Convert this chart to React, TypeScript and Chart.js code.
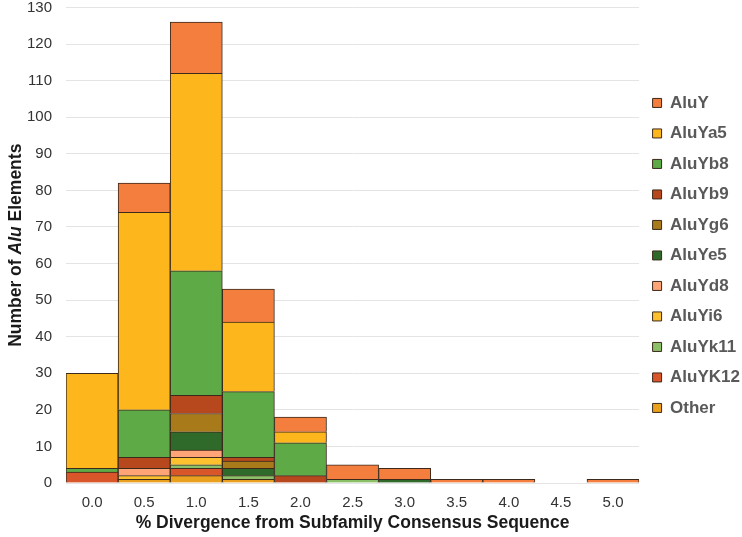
import React, { useEffect, useRef } from "react";
import { Chart, registerables } from "chart.js";

Chart.register(...registerables);

const categories = ["0.0", "0.5", "1.0", "1.5", "2.0", "2.5", "3.0", "3.5", "4.0", "4.5", "5.0"];

// stacking order: bottom -> top
const other = [0, 1, 2, 1, 0, 0, 0, 0, 0, 0, 0];
const aluYK12 = [3, 0, 2, 0, 0, 0, 0, 0, 0, 0, 0];
const aluYk11 = [0, 0, 1, 1, 0, 1, 0, 0, 0, 0, 0];
const aluYi6 = [0, 1, 2, 0, 0, 0, 0, 0, 0, 0, 0];
const aluYd8 = [0, 2, 2, 0, 0, 0, 0, 0, 0, 0, 0];
const aluYe5 = [0, 0, 5, 2, 0, 0, 1, 0, 0, 0, 0];
const aluYg6 = [0, 0, 5, 2, 0, 0, 0, 0, 0, 0, 0];
const aluYb9 = [0, 3, 5, 1, 2, 0, 0, 0, 0, 0, 0];
const aluYb8 = [1, 13, 34, 18, 9, 0, 0, 0, 0, 0, 0];
const aluYa5 = [26, 54, 54, 19, 3, 0, 0, 0, 0, 0, 0];
const aluY = [0, 8, 14, 9, 4, 4, 3, 1, 1, 0, 1];

const yTicksMax = 130;
const yTicksStep = 10;

const series = [
  { label: "Other", data: other, color: "#E9A01E" },
  { label: "AluYK12", data: aluYK12, color: "#D9562A" },
  { label: "AluYk11", data: aluYk11, color: "#8CC068" },
  { label: "AluYi6", data: aluYi6, color: "#FDC130" },
  { label: "AluYd8", data: aluYd8, color: "#FFA477" },
  { label: "AluYe5", data: aluYe5, color: "#2F6A2A" },
  { label: "AluYg6", data: aluYg6, color: "#A87A1A" },
  { label: "AluYb9", data: aluYb9, color: "#B7471C" },
  { label: "AluYb8", data: aluYb8, color: "#5EAA46" },
  { label: "AluYa5", data: aluYa5, color: "#FDB71C" },
  { label: "AluY", data: aluY, color: "#F47E3E" },
];

const FONT = "'Liberation Sans', Arial, Helvetica, sans-serif";

const yTitlePlugin = {
  id: "yTitle",
  afterDraw(chart: any) {
    const { ctx, chartArea } = chart;
    const parts = [
      { t: "Number of ", f: `bold 17.5px ${FONT}` },
      { t: "Alu", f: `italic bold 17.5px ${FONT}` },
      { t: " Elements", f: `bold 17.5px ${FONT}` },
    ];
    ctx.save();
    let total = 0;
    const widths = parts.map((p) => {
      ctx.font = p.f;
      const w = ctx.measureText(p.t).width;
      total += w;
      return w;
    });
    ctx.translate(16, (chartArea.top + chartArea.bottom) / 2);
    ctx.rotate(-Math.PI / 2);
    ctx.fillStyle = "#1a1a1a";
    ctx.textBaseline = "middle";
    ctx.textAlign = "left";
    let x = -total / 2;
    parts.forEach((p, i) => {
      ctx.font = p.f;
      ctx.fillText(p.t, x, 0);
      x += widths[i];
    });
    ctx.restore();
  },
};

export default function App() {
  const ref = useRef<HTMLCanvasElement | null>(null);

  useEffect(() => {
    if (!ref.current) return;
    const chart = new Chart(ref.current, {
      type: "bar",
      data: {
        labels: categories,
        datasets: series.map((s) => ({
          label: s.label,
          data: s.data,
          backgroundColor: s.color,
          borderColor: "#3b2a1c",
          borderWidth: 1,
          categoryPercentage: 1,
          barPercentage: 1,
        })),
      },
      options: {
        animation: false,
        responsive: true,
        maintainAspectRatio: false,
        layout: { padding: { left: 27, right: -8, top: 0, bottom: 0 } },
        plugins: {
          legend: {
            position: "right",
            fullSize: false,
            reverse: true,
            title: { display: true, text: "", font: { size: 17 }, padding: 0 },
            labels: {
              boxWidth: 9,
              boxHeight: 9,
              padding: 13.5,
              color: "#595959",
              font: { family: FONT, size: 17, weight: "bold" },
            },
          },
          tooltip: { enabled: false },
        },
        scales: {
          x: {
            stacked: true,
            grid: { display: false, drawTicks: true, tickLength: 11, tickColor: "rgba(0,0,0,0)" },
            border: { display: false },
            ticks: { color: "#333333", padding: 0, font: { family: FONT, size: 15 } },
            title: {
              display: true,
              text: "% Divergence from Subfamily Consensus Sequence",
              color: "#1a1a1a",
              font: { family: FONT, size: 17.5, weight: "bold" },
              padding: { top: 1, bottom: 3 },
            },
          },
          y: {
            stacked: true,
            min: 0,
            max: yTicksMax,
            grid: { color: "#e4e4e4", drawTicks: true, tickLength: 14, tickColor: "rgba(0,0,0,0)" },
            border: { display: false },
            ticks: {
              stepSize: yTicksStep,
              color: "#333333",
              padding: 0,
              font: { family: FONT, size: 15, lineHeight: 1 },
            },
          },
        },
      },
      plugins: [yTitlePlugin],
    });
    return () => chart.destroy();
  }, []);

  return (
    <div style={{ position: "fixed", left: 0, top: 0, width: 742, height: 537, background: "#fff" }}>
      <canvas ref={ref} />
    </div>
  );
}
